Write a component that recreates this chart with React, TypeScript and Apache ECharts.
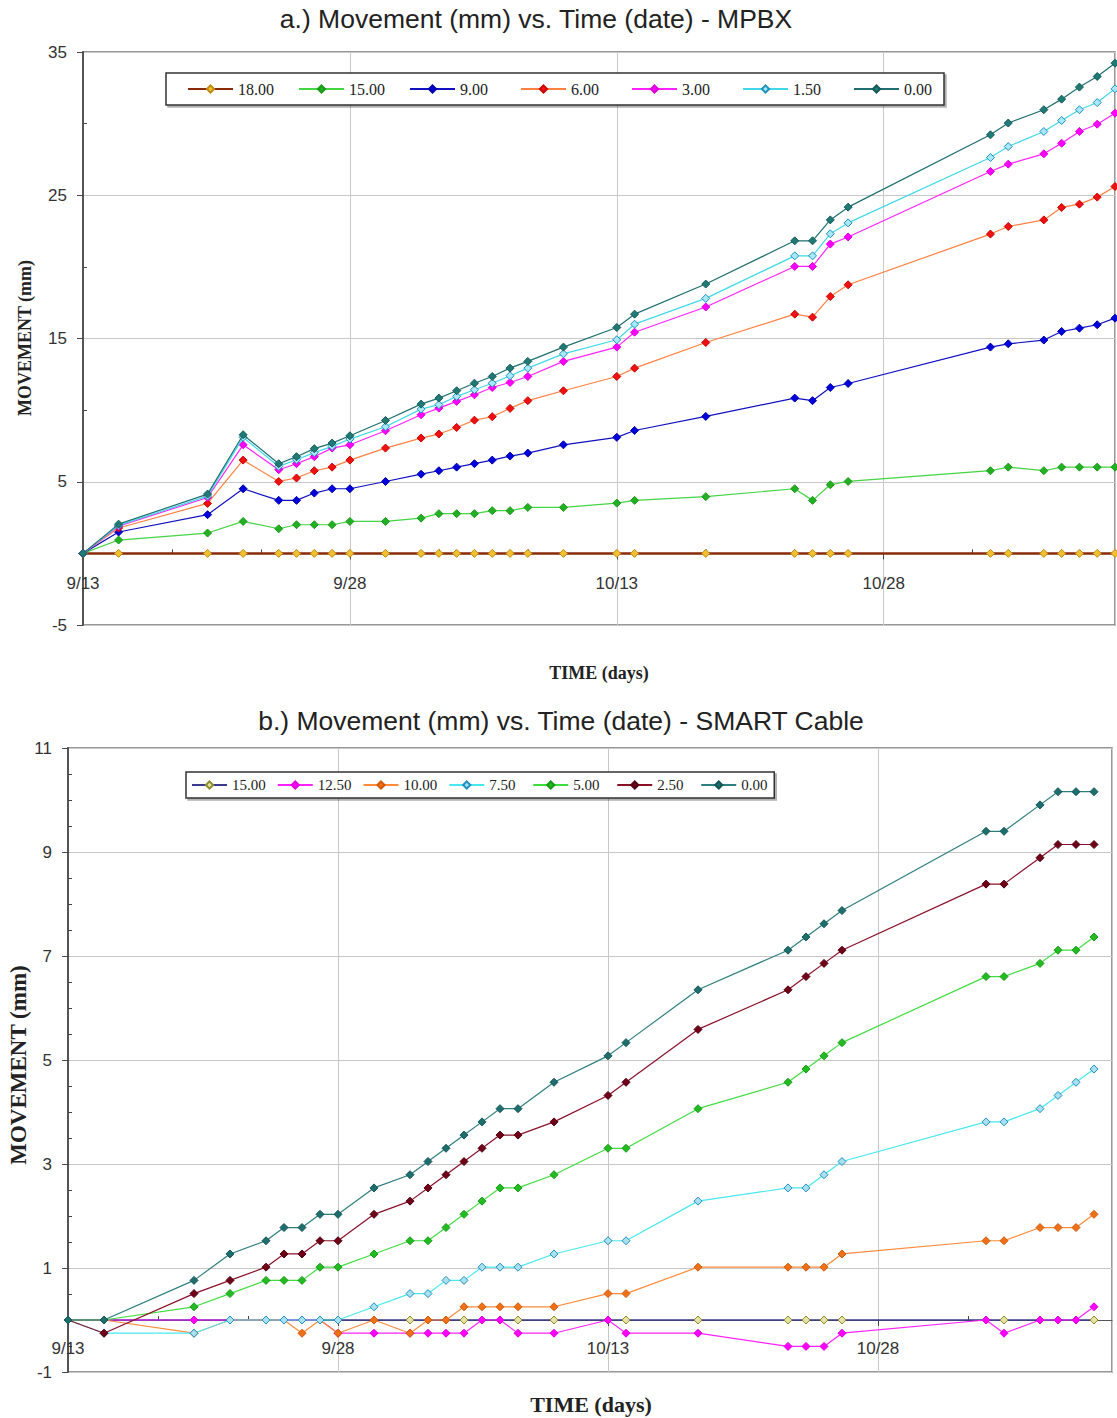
import React, { useEffect, useRef } from 'react';
import * as echarts from 'echarts';

// ---------- shared axis ticks ----------
const xTickDays = [0, 15, 30, 45];
const xTickLabels = ['9/13', '9/28', '10/13', '10/28'];
const xMinorDays = [5, 10, 20, 25, 35, 40, 50, 55];
const yMinorA = [0, 10, 20, 30];
const yMinorB = [-0.5, 0, 0.5, 1.5, 2, 2.5, 3.5, 4, 4.5, 5.5, 6, 6.5, 7.5, 8, 8.5, 9.5, 10, 10.5];

// ---------- chart a: MPBX ----------
const daysA = [0, 2, 7, 9, 11, 12, 13, 14, 15, 17, 19, 20, 21, 22, 23, 24, 25, 27, 30, 31, 35, 40, 41, 42, 43, 51, 52, 54, 55, 56, 57, 58];
const namesA = ['18.00', '15.00', '9.00', '6.00', '3.00', '1.50', '0.00'];
const a1800 = [0, 0, 0, 0, 0, 0, 0, 0, 0, 0, 0, 0, 0, 0, 0, 0, 0, 0, 0, 0, 0, 0, 0, 0, 0, 0, 0, 0, 0, 0, 0, 0];
const a1500 = [0, 0.93, 1.42, 2.23, 1.72, 2.0, 2.0, 2.0, 2.23, 2.23, 2.46, 2.77, 2.77, 2.77, 2.98, 2.98, 3.21, 3.21, 3.51, 3.7, 3.96, 4.51, 3.7, 4.79, 5.02, 5.77, 6.02, 5.77, 6.02, 6.02, 6.02, 6.02];
const a900 = [0, 1.49, 2.7, 4.51, 3.7, 3.7, 4.21, 4.51, 4.51, 5.02, 5.53, 5.77, 6.02, 6.26, 6.51, 6.79, 7.0, 7.58, 8.1, 8.58, 9.56, 10.84, 10.66, 11.58, 11.86, 14.4, 14.63, 14.89, 15.49, 15.72, 15.96, 16.42];
const a600 = [0, 1.77, 3.49, 6.51, 5.02, 5.26, 5.77, 6.02, 6.51, 7.35, 8.05, 8.33, 8.79, 9.3, 9.54, 10.12, 10.66, 11.35, 12.35, 12.93, 14.72, 16.7, 16.49, 17.93, 18.75, 22.29, 22.82, 23.28, 24.15, 24.38, 24.87, 25.61];
const a300 = [0, 1.9, 3.9, 7.58, 5.84, 6.26, 6.75, 7.35, 7.58, 8.56, 9.68, 10.14, 10.61, 11.07, 11.58, 11.93, 12.35, 13.4, 14.4, 15.44, 17.2, 20.03, 20.03, 21.59, 22.09, 26.66, 27.17, 27.89, 28.63, 29.45, 29.96, 30.73];
const a150 = [0, 1.95, 4.0, 8.1, 6.07, 6.54, 7.03, 7.47, 7.98, 8.84, 10.07, 10.38, 10.96, 11.42, 11.88, 12.4, 12.93, 13.93, 14.91, 16.0, 17.8, 20.77, 20.77, 22.31, 23.07, 27.63, 28.4, 29.45, 30.22, 30.97, 31.47, 32.43];
const a000 = [0, 2.04, 4.14, 8.28, 6.26, 6.75, 7.31, 7.7, 8.21, 9.28, 10.42, 10.84, 11.35, 11.88, 12.35, 12.93, 13.4, 14.4, 15.77, 16.7, 18.8, 21.82, 21.82, 23.28, 24.17, 29.22, 30.04, 30.97, 31.71, 32.55, 33.29, 34.22];
const valuesA = [a1800, a1500, a900, a600, a300, a150, a000];
const stylesA = [
  { line: '#8a2a0a', width: 2.5, fill: '#f0c030', border: '#c08a10' },
  { line: '#44d444', width: 1.2, fill: '#22b022', border: '#1a9a1a' },
  { line: '#1010c0', width: 1.2, fill: '#0000dd', border: '#0000aa' },
  { line: '#ff8040', width: 1.2, fill: '#ee1111', border: '#cc0000' },
  { line: '#ff22ff', width: 1.2, fill: '#ff00ff', border: '#dd00dd' },
  { line: '#40d8e8', width: 1.2, fill: '#a8e8f8', border: '#2090c0' },
  { line: '#1f6f6f', width: 1.2, fill: '#1f7a76', border: '#155a58' },
];

// ---------- chart b: SMART Cable ----------
const daysB = [0, 2, 7, 9, 11, 12, 13, 14, 15, 17, 19, 20, 21, 22, 23, 24, 25, 27, 30, 31, 35, 40, 41, 42, 43, 51, 52, 54, 55, 56, 57];
const namesB = ['15.00', '12.50', '10.00', '7.50', '5.00', '2.50', '0.00'];
const b1500 = [0, 0, 0, 0, 0, 0, 0, 0, 0, 0, 0, 0, 0, 0, 0, 0, 0, 0, 0, 0, 0, 0, 0, 0, 0, 0, 0, 0, 0, 0, 0];
const b1250 = [0, 0, 0, 0, 0, 0, 0, 0, -0.254, -0.254, -0.254, -0.254, -0.254, -0.254, 0, 0, -0.254, -0.254, 0, -0.254, -0.254, -0.508, -0.508, -0.508, -0.254, 0, -0.254, 0, 0, 0, 0.254];
const b1000 = [0, 0, -0.254, 0, 0, 0, -0.254, 0, -0.254, 0, -0.254, 0, 0, 0.254, 0.254, 0.254, 0.254, 0.254, 0.508, 0.508, 1.016, 1.016, 1.016, 1.016, 1.27, 1.524, 1.524, 1.778, 1.778, 1.778, 2.032];
const b750 = [0, -0.254, -0.254, 0, 0, 0, 0, 0, 0, 0.254, 0.508, 0.508, 0.762, 0.762, 1.016, 1.016, 1.016, 1.27, 1.524, 1.524, 2.286, 2.54, 2.54, 2.794, 3.048, 3.81, 3.81, 4.064, 4.318, 4.572, 4.826];
const b500 = [0, 0, 0.254, 0.508, 0.762, 0.762, 0.762, 1.016, 1.016, 1.27, 1.524, 1.524, 1.778, 2.032, 2.286, 2.54, 2.54, 2.794, 3.302, 3.302, 4.064, 4.572, 4.826, 5.08, 5.334, 6.604, 6.604, 6.858, 7.112, 7.112, 7.366];
const b250 = [0, -0.254, 0.508, 0.762, 1.016, 1.27, 1.27, 1.524, 1.524, 2.032, 2.286, 2.54, 2.794, 3.048, 3.302, 3.556, 3.556, 3.81, 4.318, 4.572, 5.588, 6.35, 6.604, 6.858, 7.112, 8.382, 8.382, 8.89, 9.144, 9.144, 9.144];
const b000 = [0, 0, 0.762, 1.27, 1.524, 1.778, 1.778, 2.032, 2.032, 2.54, 2.794, 3.048, 3.302, 3.556, 3.81, 4.064, 4.064, 4.572, 5.08, 5.334, 6.35, 7.112, 7.366, 7.62, 7.874, 9.398, 9.398, 9.906, 10.16, 10.16, 10.16];
const valuesB = [b1500, b1250, b1000, b750, b500, b250, b000];
const stylesB = [
  { line: '#3a3a8c', width: 1.6, fill: '#e8e0a0', border: '#8c8c30' },
  { line: '#ff22ff', width: 1.2, fill: '#ff00ff', border: '#dd00dd' },
  { line: '#ff8a3a', width: 1.2, fill: '#f07018', border: '#d05a08' },
  { line: '#48e8f0', width: 1.2, fill: '#a8e0f0', border: '#2090c0' },
  { line: '#40dd40', width: 1.2, fill: '#22bb22', border: '#159a15' },
  { line: '#8a1028', width: 1.2, fill: '#700018', border: '#500010' },
  { line: '#2e7e7e', width: 1.2, fill: '#1e6e6e', border: '#145656' },
];

const sansFont = 'Liberation Sans';
const serifFont = 'Liberation Serif';

function xFormatter(v: number) {
  const i = xTickDays.indexOf(v);
  return i >= 0 ? xTickLabels[i] : '';
}

function textEl(text: string, x: number, y: number, font: string, rotate = false) {
  return {
    type: 'text',
    x,
    y,
    rotation: rotate ? Math.PI / 2 : 0,
    style: {
      text,
      font,
      fill: '#222',
      align: 'center',
      verticalAlign: 'middle',
      textAlign: 'center',
      textVerticalAlign: 'middle',
    },
  };
}

function buildOption(cfg: any) {
  const series = cfg.names.map((name: string, k: number) => ({
    type: 'line',
    name,
    xAxisIndex: 0,
    yAxisIndex: 0,
    data: cfg.days.map((d: number, i: number) => [d, cfg.values[k][i]]),
    symbol: 'diamond',
    symbolSize: 8,
    showSymbol: true,
    lineStyle: { color: cfg.styles[k].line, width: cfg.styles[k].width },
    itemStyle: { color: cfg.styles[k].fill, borderColor: cfg.styles[k].border, borderWidth: 1 },
    emphasis: { disabled: true },
    z: 2 + k,
  }));
  // x axis sits on the y = 0 line: shift it up from the grid bottom
  const zeroShift = -cfg.grid.height * (0 - cfg.y.min) / (cfg.y.max - cfg.y.min);
  return {
    animation: false,
    backgroundColor: '#ffffff',
    grid: {
      left: cfg.grid.left,
      top: cfg.grid.top,
      width: cfg.grid.width,
      height: cfg.grid.height,
      show: true,
      borderColor: '#777',
      borderWidth: 1.5,
      backgroundColor: 'transparent',
    },
    legend: {
      data: cfg.names,
      left: cfg.legend.left,
      top: cfg.legend.top,
      orient: 'horizontal',
      itemWidth: cfg.legend.itemWidth,
      itemHeight: 9,
      itemGap: cfg.legend.itemGap,
      padding: cfg.legend.padding,
      borderColor: '#333',
      borderWidth: 1.5,
      backgroundColor: '#fff',
      shadowColor: 'rgba(0,0,0,0.3)',
      shadowOffsetX: 2,
      shadowOffsetY: 2,
      shadowBlur: 1,
      selectedMode: false,
      textStyle: {
        fontFamily: serifFont,
        fontSize: cfg.legend.fontSize,
        color: '#222',
        width: cfg.legend.textWidth,
        lineHeight: 16,
      },
    },
    xAxis: [
      {
        type: 'value',
        gridIndex: 0,
        min: 0,
        max: 58,
        interval: 15,
        position: 'bottom',
        offset: zeroShift,
        axisLine: { show: true, onZero: false, lineStyle: { color: '#555', width: 1 } },
        axisTick: { show: true, length: 6, lineStyle: { color: '#444' } },
        axisLabel: {
          margin: cfg.xLabelMargin,
          formatter: xFormatter,
          fontFamily: sansFont,
          fontSize: 17,
          color: '#333',
          showMaxLabel: false,
        },
        splitLine: { show: true, lineStyle: { color: '#c8c8c8', width: 1 } },
      },
      {
        type: 'value',
        gridIndex: 0,
        min: 0,
        max: 58,
        interval: 5,
        position: 'bottom',
        offset: zeroShift,
        axisLine: { show: false, onZero: false },
        axisTick: { show: true, inside: true, length: 4, customValues: xMinorDays, lineStyle: { color: '#444' } },
        axisLabel: { show: false },
        splitLine: { show: false },
      },
    ],
    yAxis: [
      {
        type: 'value',
        gridIndex: 0,
        min: cfg.y.min,
        max: cfg.y.max,
        interval: cfg.y.interval,
        position: 'left',
        axisLine: { show: true, onZero: false, lineStyle: { color: '#555', width: 2 } },
        axisTick: { show: true, length: 6, lineStyle: { color: '#444' } },
        axisLabel: { margin: 16, fontFamily: sansFont, fontSize: 17, color: '#333' },
        splitLine: { show: true, lineStyle: { color: '#c8c8c8', width: 1 } },
      },
      {
        type: 'value',
        gridIndex: 0,
        min: cfg.y.min,
        max: cfg.y.max,
        interval: cfg.y.interval,
        position: 'left',
        axisLine: { show: false, onZero: false },
        axisTick: { show: true, inside: true, length: 4, customValues: cfg.y.minor, lineStyle: { color: '#444' } },
        axisLabel: { show: false },
        splitLine: { show: false },
      },
    ],
    graphic: cfg.texts,
    series,
  };
}

const optionA = buildOption({
  names: namesA,
  days: daysA,
  values: valuesA,
  styles: stylesA,
  grid: { left: 83, top: 52, width: 1032, height: 573 },
  legend: { left: 166, top: 73, itemWidth: 45, itemGap: 20, padding: [8, 0, 8, 21], fontSize: 16, textWidth: 40 },
  xLabelMargin: 22,
  y: { min: -5, max: 35, interval: 10, minor: yMinorA },
  texts: [
    textEl('a.) Movement (mm) vs. Time (date) - MPBX', 536, 19, `normal 26.5px "${sansFont}"`),
    textEl('MOVEMENT (mm)', 25, 338, `bold 18px "${serifFont}"`, true),
    textEl('TIME (days)', 599, 673, `bold 18px "${serifFont}"`),
  ],
});

const optionB = buildOption({
  names: namesB,
  days: daysB,
  values: valuesB,
  styles: stylesB,
  grid: { left: 68, top: 48, width: 1044, height: 624 },
  legend: { left: 186, top: 72, itemWidth: 35, itemGap: 11, padding: [5, 1, 5, 5], fontSize: 15, textWidth: 32 },
  xLabelMargin: 20,
  y: { min: -1, max: 11, interval: 2, minor: yMinorB },
  texts: [
    textEl('b.) Movement (mm) vs. Time (date) - SMART Cable', 561, 21, `normal 26.5px "${sansFont}"`),
    textEl('MOVEMENT (mm)', 18, 365, `bold 23px "${serifFont}"`, true),
    textEl('TIME (days)', 591, 704, `bold 22px "${serifFont}"`),
  ],
});

export default function App() {
  const refA = useRef<HTMLDivElement>(null);
  const refB = useRef<HTMLDivElement>(null);
  useEffect(() => {
    const ca = echarts.init(refA.current as HTMLDivElement, null, { renderer: 'svg' });
    ca.setOption(optionA as any);
    const cb = echarts.init(refB.current as HTMLDivElement, null, { renderer: 'svg' });
    cb.setOption(optionB as any);
    return () => {
      ca.dispose();
      cb.dispose();
    };
  }, []);
  return (
    <div style={{ position: 'absolute', left: 0, top: 0, width: 1117, height: 1418, background: '#fff' }}>
      <div ref={refA} style={{ position: 'absolute', left: 0, top: 0, width: 1117, height: 700 }} />
      <div ref={refB} style={{ position: 'absolute', left: 0, top: 700, width: 1117, height: 718 }} />
    </div>
  );
}
